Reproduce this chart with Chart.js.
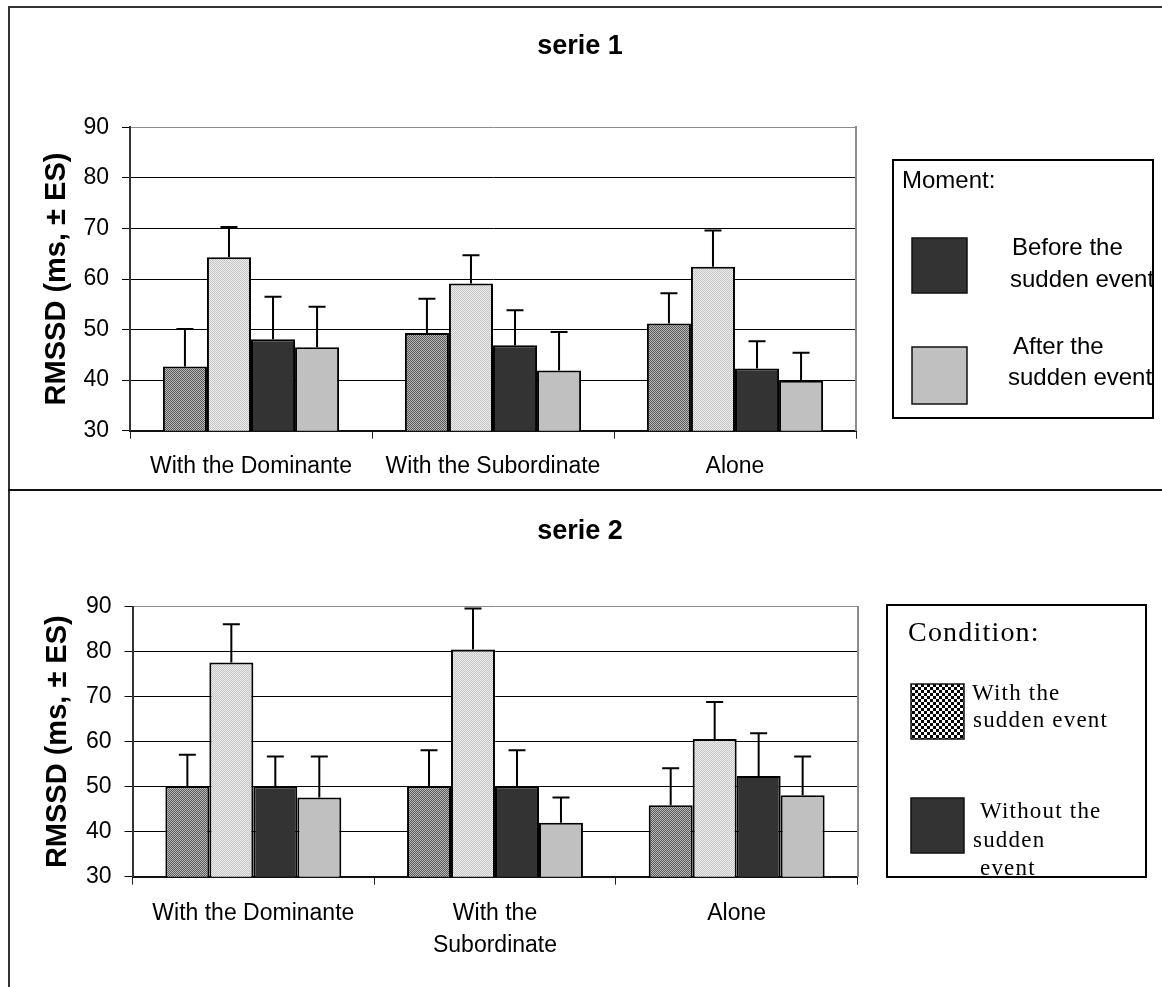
<!DOCTYPE html>
<html>
<head>
<meta charset="utf-8">
<script src="https://cdn.jsdelivr.net/npm/chart.js@4.4.1/dist/chart.umd.min.js"></script>
<style>
  html, body { margin: 0; padding: 0; background: #fff; }
  #wrap { position: relative; width: 1162px; height: 987px; overflow: hidden; }
  canvas { position: absolute; left: 0; }
  #c1 { top: 0; }
  #c2 { top: 489px; }
  .ln { position: absolute; background: #333; }
</style>
</head>
<body>
<div id="wrap">
  <canvas id="c1" width="1162" height="489"></canvas>
  <canvas id="c2" width="1162" height="498"></canvas>
  <div class="ln" style="left:8px;top:6px;width:1154px;height:2px"></div>
  <div class="ln" style="left:8px;top:6px;width:2px;height:981px"></div>
  <div class="ln" style="left:8px;top:489px;width:1154px;height:2px;background:#111"></div>
</div>
<script>
// categorias de cada grafica
const groups1 = ['With the Dominante', 'With the Subordinate', 'Alone'];
const groups2 = ['With the Dominante', ['With the', 'Subordinate'], 'Alone'];
const yTicks = [30, 40, 50, 60, 70, 80, 90];
const yTitle = 'RMSSD (ms, \u00b1 ES)';

// serie 1 - RMSSD medio (ms)
const withBefore1 = [42.7, 49.3, 51.2];
const withAfter1 = [64.3, 59.1, 62.4];
const withoutBefore1 = [48.1, 46.9, 42.3];
const withoutAfter1 = [46.5, 41.9, 39.9];
// serie 1 - error estandar
const errWithBefore1 = [7.4, 6.8, 6.0];
const errWithAfter1 = [6.0, 5.6, 7.2];
const errWithoutBefore1 = [8.4, 6.9, 5.4];
const errWithoutAfter1 = [8.0, 7.6, 5.5];

// serie 2 - RMSSD medio (ms)
const withBefore2 = [50.1, 50.1, 45.9];
const withAfter2 = [77.6, 80.5, 60.6];
const withoutBefore2 = [50.1, 50.1, 52.4];
const withoutAfter2 = [47.6, 42.0, 48.1];
// serie 2 - error estandar
const errWithBefore2 = [7.0, 8.0, 8.2];
const errWithAfter2 = [8.5, 9.1, 8.2];
const errWithoutBefore2 = [6.6, 8.0, 9.5];
const errWithoutAfter2 = [9.1, 5.6, 8.6];

// textos de las leyendas
const legend1Title = 'Moment:';
const legend1Labels = [['Before the', 'sudden event'], ['After the', 'sudden event']];
const legend2Title = 'Condition:';
const legend2Labels = [['With the', 'sudden event'], ['Without the', 'sudden', 'event']];

const SANS = 'Arial, "Liberation Sans", sans-serif';
const SERIF = '"Times New Roman", "Liberation Serif", serif';
Chart.defaults.font.family = SANS;
Chart.defaults.color = '#000';

// tramas de relleno
function trama(c1, c2, size) {
  const t = document.createElement('canvas');
  t.width = t.height = size * 2;
  const g = t.getContext('2d');
  g.fillStyle = c1; g.fillRect(0, 0, size * 2, size * 2);
  g.fillStyle = c2; g.fillRect(0, 0, size, size); g.fillRect(size, size, size, size);
  return g.createPattern(t, 'repeat');
}
const densa = trama('#b8b8b8', '#5a5a5a', 1);
const clara = trama('#eeeeee', '#c4c4c4', 1);
const ajedrez = trama('#ffffff', '#000000', 3);
const oscuro = '#333333';
const gris = '#c0c0c0';

// barras de error (solo hacia arriba)
const errorBars = {
  id: 'errorBars',
  afterDatasetsDraw(chart) {
    const ctx = chart.ctx, y = chart.scales.y;
    ctx.save();
    ctx.strokeStyle = '#000';
    ctx.lineWidth = 2;
    chart.data.datasets.forEach((ds, i) => {
      chart.getDatasetMeta(i).data.forEach((bar, j) => {
        const top = y.getPixelForValue(ds.data[j] + ds.errors[j]);
        ctx.beginPath();
        ctx.moveTo(bar.x, bar.y);
        ctx.lineTo(bar.x, top);
        ctx.moveTo(bar.x - 8.5, top);
        ctx.lineTo(bar.x + 8.5, top);
        ctx.stroke();
      });
    });
    ctx.restore();
  }
};

// leyenda en caja, dibujada a mano
const cajaLeyenda = {
  id: 'cajaLeyenda',
  afterDraw(chart, args, o) {
    const ctx = chart.ctx;
    const [bx, by, bw, bh] = o.box;
    ctx.save();
    ctx.fillStyle = '#fff';
    ctx.fillRect(bx, by, bw, bh);
    ctx.beginPath();
    ctx.rect(bx, by, bw, bh);
    ctx.clip();
    ctx.fillStyle = '#000';
    if ('letterSpacing' in ctx) ctx.letterSpacing = o.spacing;
    ctx.font = o.titleFont;
    ctx.fillText(o.title[0], o.title[1], o.title[2]);
    ctx.font = o.font;
    o.items.forEach(it => {
      const [x, y, w, h] = it.rect;
      ctx.fillStyle = it.fill;
      ctx.fillRect(x, y, w, h);
      ctx.strokeStyle = '#111';
      ctx.lineWidth = 1.5;
      ctx.strokeRect(x, y, w, h);
      ctx.fillStyle = '#000';
      it.lines.forEach(l => ctx.fillText(l[0], l[1], l[2]));
    });
    ctx.restore();
    ctx.save();
    ctx.strokeStyle = '#000';
    ctx.lineWidth = 2;
    ctx.strokeRect(bx, by, bw, bh);
    ctx.restore();
  }
};

function dataset(label, data, errors, fill) {
  return {
    label: label, data: data, errors: errors,
    backgroundColor: fill, borderColor: '#000', borderWidth: 2, borderSkipped: false,
    categoryPercentage: 0.728, barPercentage: 1
  };
}

function opciones(cfg) {
  return {
    responsive: false,
    animation: false,
    layout: { padding: { left: 0, right: 2, top: 0, bottom: 0 } },
    plugins: {
      legend: { display: false },
      tooltip: { enabled: false },
      title: {
        display: true, text: cfg.title, color: '#000',
        font: { size: 27, weight: 'bold' },
        padding: { top: cfg.titleTop, bottom: cfg.titleBottom }
      },
      cajaLeyenda: cfg.legend
    },
    scales: {
      x: {
        afterFit: s => { s.height = cfg.xHeight; },
        grid: { drawOnChartArea: false, drawTicks: true, tickLength: 8, color: '#222', offset: true },
        border: { display: true, color: '#111', width: 2 },
        ticks: { font: { size: 23, lineHeight: cfg.xLine }, padding: cfg.xPad, maxRotation: 0, autoSkip: false, color: '#000' }
      },
      y: {
        min: yTicks[0], max: yTicks[yTicks.length - 1],
        afterFit: s => { s.width = cfg.yWidth; },
        grid: {
          color: c => (c.tick && c.tick.value === yTicks[yTicks.length - 1]) ? '#8c8c8c' : '#000',
          lineWidth: 1, tickLength: 8, tickColor: '#000'
        },
        border: { display: true, color: '#333', width: 2 },
        ticks: { stepSize: yTicks[1] - yTicks[0], font: { size: 23 }, padding: 13, color: '#000' },
        title: { display: true, text: yTitle, font: { size: 29, weight: 'bold' }, padding: { top: cfg.yTitlePad, bottom: 0 }, color: '#000' }
      },
      yR: {
        type: 'linear', position: 'right', min: 0, max: 1,
        afterFit: s => { s.width = cfg.rightWidth; },
        grid: { display: false },
        ticks: { display: false },
        border: { display: true, color: '#8c8c8c', width: 2 }
      }
    }
  };
}

new Chart(document.getElementById('c1'), {
  type: 'bar',
  data: {
    labels: groups1,
    datasets: [
      dataset('With the sudden event - before', withBefore1, errWithBefore1, densa),
      dataset('With the sudden event - after', withAfter1, errWithAfter1, clara),
      dataset('Without the sudden event - before', withoutBefore1, errWithoutBefore1, oscuro),
      dataset('Without the sudden event - after', withoutAfter1, errWithoutAfter1, gris)
    ]
  },
  options: opciones({
    title: 'serie 1', titleTop: 30.8, titleBottom: 64.1,
    xHeight: 58.3, xLine: 1.2, xPad: 14,
    yWidth: 130, yTitlePad: 39.6, rightWidth: 304,
    legend: {
      box: [893, 160, 260, 258],
      font: '24px ' + SANS, titleFont: '24px ' + SANS, spacing: '0px',
      title: [legend1Title, 902, 188],
      items: [
        { fill: oscuro, rect: [912, 238, 55, 55],
          lines: [[legend1Labels[0][0], 1012, 255], [legend1Labels[0][1], 1010, 287]] },
        { fill: gris, rect: [912, 347, 55, 57],
          lines: [[legend1Labels[1][0], 1013, 354], [legend1Labels[1][1], 1008, 385]] }
      ]
    }
  }),
  plugins: [errorBars, cajaLeyenda]
});

new Chart(document.getElementById('c2'), {
  type: 'bar',
  data: {
    labels: groups2,
    datasets: [
      dataset('With the sudden event - before', withBefore2, errWithBefore2, densa),
      dataset('With the sudden event - after', withAfter2, errWithAfter2, clara),
      dataset('Without the sudden event - before', withoutBefore2, errWithoutBefore2, oscuro),
      dataset('Without the sudden event - after', withoutAfter2, errWithoutAfter2, gris)
    ]
  },
  options: opciones({
    title: 'serie 2', titleTop: 26.8, titleBottom: 58.5,
    xHeight: 110.3, xLine: 1.4, xPad: 13,
    yWidth: 132.5, yTitlePad: 40.6, rightWidth: 302.5,
    legend: {
      box: [887, 116, 259, 272],
      font: '23px ' + SERIF, titleFont: '28px ' + SERIF, spacing: '1.2px',
      title: [legend2Title, 908, 152],
      items: [
        { fill: ajedrez, rect: [911, 195, 53, 55],
          lines: [[legend2Labels[0][0], 972, 211], [legend2Labels[0][1], 973, 238]] },
        { fill: oscuro, rect: [911, 309, 53, 55],
          lines: [[legend2Labels[1][0], 980, 329], [legend2Labels[1][1], 973, 358], [legend2Labels[1][2], 980, 386]] }
      ]
    }
  }),
  plugins: [errorBars, cajaLeyenda]
});
</script>
</body>
</html>
